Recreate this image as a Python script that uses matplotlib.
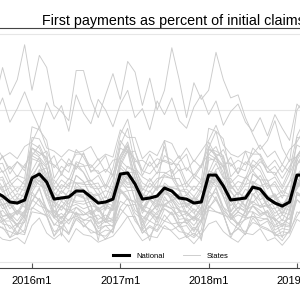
import matplotlib.pyplot as plt
from matplotlib.lines import Line2D
import pandas as pd

plt.rcParams['font.family'] = ['Liberation Sans', 'DejaVu Sans']

# monthly axis, Stata style %tm numbers (2016m1 = 672)
months = pd.period_range('2015-08', '2019-02', freq='M')
xm = [(p.year - 1960) * 12 + p.month - 1 for p in months]

tick_labels = ['2016m1', '2017m1', '2018m1', '2019m1']
title = 'First payments as percent of initial claims'

national = [46.0, 43.4, 39.5, 38.8, 40.8, 55.3, 57.9, 52.6, 41.4, 42.1, 42.8, 46.7,
            46.7, 42.8, 38.8, 39.5, 41.4, 57.9, 58.6, 51.3, 41.4, 42.1, 43.4, 48.7,
            46.7, 42.1, 41.4, 38.8, 39.5, 57.2, 57.2, 50.0, 40.8, 41.4, 42.1, 49.3,
            48.0, 42.1, 38.8, 36.8, 39.5, 57.2, 57.2]

state01 = [19,15,14,16,12,24,29,19,15,19,13,22, 18,17,13,15,17,23,30,21,14,17,16,24, 20,15,17,12,18,25,27,20,16,13,19,18, 22,14,16,11,17,28,25]
state02 = [22,23,16,19,18,36,33,30,17,23,18,29, 26,19,20,15,22,31,38,27,21,17,25,22, 21,24,16,19,15,37,33,31,18,22,18,29, 23,21,19,14,21,30,38]
state03 = [33,25,24,18,27,40,49,32,25,23,28,30, 28,27,20,24,19,47,42,39,21,27,24,35, 32,23,24,17,26,40,49,33,26,22,29,30, 27,29,19,22,21,45,41]
state04 = [31,29,22,25,26,41,37,35,24,30,25,33, 27,30,23,27,23,36,42,32,28,14,30,27, 33,24,28,21,28,35,43,31,29,25,28,30, 29,28,23,25,24,41,36]
state05 = [41,30,31,24,33,50,60,43,33,28,36,38, 35,37,26,28,29,58,55,48,26,35,31,43, 36,35,25,30,27,56,53,50,28,33,30,45, 40,30,29,23,33,52,60]
state06 = [36,30,32,27,34,35,42,33,34,29,35,31, 31,34,28,31,27,40,37,38,28,34,29,38, 35,30,32,27,33,36,41,34,29,33,30,37, 31,34,27,31,28,41,37]
state07 = [36,38,29,34,30,54,51,48,30,37,33,45, 43,32,36,28,37,49,56,41,35,32,38,38, 41,34,33,29,36,53,52,43,31,36,34,40, 36,38,30,33,31,55,51]
state08 = [42,41,31,34,32,68,66,58,32,40,36,52, 47,37,36,28,39,63,73,50,37,35,43,45, 43,41,30,35,31,67,68,59,33,39,35,53, 48,36,35,27,38,64,71]
state09 = [43,35,38,31,39,46,54,42,39,34,41,39, 38,40,33,36,34,53,47,47,32,41,34,46, 42,36,37,32,39,45,55,43,40,33,42,38, 37,40,32,36,34,52,48]
state10 = [47,38,39,31,41,55,65,48,40,36,43,44, 42,42,34,38,34,62,57,55,35,41,38,49, 40,44,32,39,33,60,58,53,33,43,36,51, 47,37,39,31,40,55,65]
state11 = [41,44,35,40,36,57,53,52,36,43,38,49, 48,37,14,39,37,58,52,53,35,44,39,48, 40,45,36,40,35,56,54,51,37,42,37,50, 41,44,35,39,36,57,53]
state12 = [48,48,37,41,39,72,69,63,39,47,42,57, 53,43,44,34,46,67,76,56,44,42,49,50, 49,47,36,42,38,71,68,64,40,46,41,58, 54,42,43,34,45,67,75]
state13 = [49,41,45,38,46,50,58,47,46,40,47,45, 44,46,40,43,39,57,51,52,39,47,40,52, 48,42,44,39,46,49,59,48,47,39,48,44, 49,40,45,37,45,50,58]
state14 = [54,54,41,45,43,82,81,71,43,51,48,65, 59,49,48,38,50,77,88,64,48,46,53,58, 61,47,46,40,48,75,86,66,50,44,55,60, 54,54,41,44,43,82,81]
state15 = [56,46,49,42,50,60,69,55,50,45,52,52, 51,51,44,47,45,67,62,60,43,52,47,57, 55,47,48,43,50,59,70,56,51,44,51,53, 50,52,43,47,44,67,63]
state16 = [54,56,45,49,47,75,72,68,47,54,50,63, 59,51,52,42,54,70,79,61,52,49,55,56, 55,55,44,50,46,74,71,69,48,53,51,64, 60,50,51,42,53,69,78]
state17 = [57,49,53,46,54,57,64,54,54,48,55,52, 52,54,48,51,47,64,59,59,47,55,48,80, 56,50,52,47,54,56,65,55,55,47,56,51, 57,48,53,45,53,57,64]
state18 = [57,60,50,55,51,75,72,69,51,58,54,66, 64,53,57,48,58,70,77,62,56,53,59,59, 56,61,49,56,51,74,73,70,52,57,55,67, 63,53,56,48,58,69,78]
state19 = [64,65,53,57,55,89,87,80,55,63,59,74, 69,60,60,50,62,84,94,73,60,58,64,67, 65,64,52,58,54,88,86,81,56,62,60,75, 70,59,59,50,61,83,93]
state20 = [68,59,63,56,64,70,77,66,64,59,65,63, 63,64,58,61,57,75,72,73,57,66,58,70, 67,60,62,57,64,71,76,65,65,58,66,62, 68,59,63,55,63,70,77]
state21 = [64,69,61,66,62,75,70,73,62,68,63,71, 71,62,68,59,67,68,77,66,67,63,68,66, 64,70,60,67,62,76,69,74,63,67,64,71, 71,62,67,59,67,69,76]
state22 = [77,69,72,68,76,79,89,75,73,69,74,72, 73,76,67,71,69,87,82,82,68,73,70,80, 78,68,75,66,73,80,90,77,71,69,73,71, 77,69,73,64,74,79,88]
state23 = [24,27,16,24,19,33,32,31,17,27,19,32, 23,28,18,21,20,35,30,30,19,24,21,31, 25,26,17,23,18,34,33,32,16,26,18,33, 24,27,17,20,19,33,31]
state24 = [36,27,30,23,31,40,48,35,31,26,33,32, 31,32,25,28,26,47,41,40,24,33,28,37, 35,28,29,24,31,39,49,36,32,25,33,33, 30,33,24,28,25,46,42]
state25 = [36,38,28,33,29,55,51,48,29,37,32,44, 43,31,35,26,36,50,58,41,34,32,37,37, 41,33,33,28,35,54,50,49,30,36,33,45, 36,37,28,16,35,49,57]
state26 = [45,37,40,33,41,48,56,44,41,17,43,40, 40,42,35,38,34,55,49,49,34,42,36,47, 44,38,39,34,14,47,57,45,42,35,43,39, 45,36,40,32,41,48,56]
state27 = [48,49,38,42,40,70,67,62,40,47,43,57, 53,44,45,35,47,65,74,55,45,42,50,50, 49,48,37,43,39,69,66,63,41,46,42,58, 54,43,44,35,46,64,73]
state28 = [38,27,27,19,29,51,61,42,29,25,33,36, 31,34,22,24,24,58,56,47,22,32,26,41, 39,26,26,20,28,50,60,43,30,24,34,37, 32,33,21,24,23,57,55]
state29 = [107,128,110,120,143,113,136,128,103,99,93,126, 126,107,95,110,124,107,132,125,103,121,100,113, 141,120,95,118,107,113,138,120,108,110,95,84, 74,80,93,75,66,100,107]
state30 = [96,108,92,101,112,99,88,105,94,103,86,110, 98,91,107,100,89,104,113,95,101,87,106,97, 108,93,88,102,110,97,106,90,99,104,92,86, 95,83,97,88,80,104,98]
state31 = [26,22,20,18,21,46,40,30,20,22,19,28, 24,21,18,17,22,48,43,29,19,23,20,27, 25,20,19,16,21,47,41,31,18,22,20,26, 24,22,18,17,20,46,42]
state32 = [45,42,40,38,41,50,60,62,45,43,42,48, 46,41,39,40,42,52,63,60,44,42,43,47, 44,43,38,39,41,51,61,63,46,41,44,49, 45,42,40,37,42,50,59]
state33 = [62,70,58,66,60,78,75,64,70,57,68,61, 72,59,64,70,56,80,73,68,60,71,62,76, 58,66,71,55,63,79,70,62,69,58,73,60, 66,62,57,64,59,77,74]
state34 = [30,34,28,25,30,44,41,35,29,32,27,36, 33,29,31,26,28,45,47,34,30,27,33,35, 31,33,27,29,26,43,46,36,28,31,29,37, 34,30,28,25,29,44,43]

states = [state01, state02, state03, state04, state05, state06, state07, state08,
          state09, state10, state11, state12, state13, state14, state15, state16,
          state17, state18, state19, state20, state21, state22, state23, state24,
          state25, state26, state27, state28, state29, state30, state31, state32,
          state33, state34]

state_color = '#cbcbcb'

fig = plt.figure(figsize=(3, 3), dpi=100)
# the picture is a crop of a wider chart, so the axes run past both edges
ax = fig.add_axes([0, 32 / 300, 1, 240 / 300])

for s in states:
    ax.plot(xm, s, color=state_color, lw=0.65, zorder=2)
ax.plot(xm, national, color='black', lw=2.2, zorder=3)

ax.set_xlim(672 - 32 / 7.36, 672 + 268 / 7.36)
ax.set_ylim(-3.95, 154)
ax.set_yticks([0, 50, 100, 150])
ax.yaxis.grid(True, color='#e6e6e6', lw=0.8, zorder=0)
ax.tick_params(axis='y', left=False, labelleft=False)

tick_pos = [(int(t[:4]) - 1960) * 12 for t in tick_labels]
ax.set_xticks(tick_pos)
ax.set_xticklabels(tick_labels, fontsize=8)
ax.tick_params(axis='x', direction='in', length=3.5, width=0.8, color='#555555', pad=5.5)

for side in ['left', 'right']:
    ax.spines[side].set_visible(False)
for side in ['top', 'bottom']:
    ax.spines[side].set_color('#444444')
    ax.spines[side].set_linewidth(0.8)

handles = [Line2D([], [], color='black', lw=2.2), Line2D([], [], color=state_color, lw=0.65)]
ax.legend(handles, ['National', 'States'], loc='center', ncol=2, frameon=False,
          bbox_to_anchor=(170.5 / 300, 1 - 256 / 300), bbox_transform=fig.transFigure,
          fontsize=5.5, handlelength=2.2, handletextpad=0.9, columnspacing=2.4, borderpad=0)

fig.text(42 / 300, 1 - 25 / 300, title, ha='left', va='baseline', fontsize=10.3)

fig.savefig('out.png', dpi=100)
